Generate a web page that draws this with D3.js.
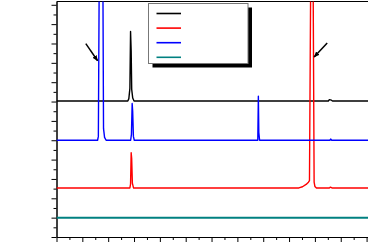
<!DOCTYPE html>
<html lang="en">

<head>
  <meta charset="UTF-8">
  <title>XRD patterns</title>
  <style>
    body { margin: 0; background: #fff; }
    svg { display: block; }
  </style>
</head>

<body>
  <svg id="svg" width="368" height="242"></svg>

  <script src="https://d3js.org/d3.v7.min.js"></script>
  <script>
    // series names, colours and vertical offsets (stacked patterns)
    const names = ['black', 'red', 'blue', 'teal']
    const colors = ['#000000', '#ff0000', '#0000ff', '#008080']
    const offsets = [7030, 2535, 5000, 1000]

    // [2theta, intensity above own baseline]
    const blackPts = [[10, 0], [23.8, 0], [24.0, 120], [24.2, 650], [24.33, 3590], [24.45, 2600],
      [24.55, 600], [24.75, 150], [25.0, 0], [62.6, 0], [62.8, 70], [63.2, 40], [63.4, 0], [73, 0]]
    const redPts = [[10, 0], [24.2, 0], [24.33, 200], [24.45, 1820], [24.55, 1500], [24.68, 250],
      [24.9, 0], [56.9, 0], [57.6, 60], [58.3, 180], [58.75, 300], [58.95, 380], [59.17, 10000],
      [59.67, 10000], [59.85, 300], [60.0, 80], [60.3, 0], [62.8, 0], [63.0, 40], [63.3, 0], [73, 0]]
    const bluePts = [[10, 0], [17.95, 0], [18.1, 200], [18.3, 10000], [18.95, 10000], [19.1, 600],
      [19.3, 150], [19.6, 0], [24.35, 0], [24.5, 300], [24.64, 1900], [24.74, 1500], [24.88, 200],
      [25.05, 0], [48.95, 0], [49.06, 2270], [49.15, 400], [49.3, 0], [62.9, 0], [63.05, 60],
      [63.25, 0], [73, 0]]
    const tealPts = [[10, 0], [73, 0]]
    const series = [blackPts, redPts, bluePts, tealPts]

    const xMajor = d3.range(10, 75, 5)
    const xMinor = d3.range(12.5, 75, 5)
    const yMajor = d3.range(0, 13000, 1000)
    const yMinor = d3.range(500, 12500, 1000)

    // annotation arrows [x1, y1, x2, y2] in data units
    const arrows = [[15.67, 9990, 17.95, 9110], [62.38, 10020, 59.85, 9300]]

    const margin = { left: 56.5, top: 1.5 }
    const width = 323
    const height = 235.5

    const xScale = d3.scaleLinear().domain([10, 72.5]).range([0, width])
    const yScale = d3.scaleLinear().domain([0, 12170]).range([height, 0])

    const svg = d3.select('#svg')
    svg.append('rect').attr('width', 368).attr('height', 242).attr('fill', '#fff')

    svg.append('defs').append('clipPath').attr('id', 'clip')
      .append('rect').attr('width', width).attr('height', height)
    svg.select('defs').append('marker')
      .attr('id', 'head')
      .attr('viewBox', '0 0 10 10')
      .attr('refX', 9).attr('refY', 5)
      .attr('markerWidth', 4).attr('markerHeight', 4)
      .attr('orient', 'auto')
      .append('path').attr('d', 'M0,1L10,5L0,9Z').attr('fill', '#000')

    const g = svg.append('g').attr('transform', `translate(${margin.left},${margin.top})`)

    // axes
    const xAxisMajor = d3.axisBottom(xScale).tickValues(xMajor).tickSize(5).tickSizeOuter(0).tickFormat('')
    const xAxisMinor = d3.axisBottom(xScale).tickValues(xMinor).tickSize(3).tickSizeOuter(0).tickFormat('')
    const yAxisMajor = d3.axisLeft(yScale).tickValues(yMajor).tickSize(5).tickSizeOuter(0).tickFormat('')
    const yAxisMinor = d3.axisLeft(yScale).tickValues(yMinor).tickSize(3).tickSizeOuter(0).tickFormat('')

    g.append('g').attr('transform', `translate(0,${height})`).call(xAxisMajor)
    g.append('g').attr('transform', `translate(0,${height})`).call(xAxisMinor)
    g.append('g').call(yAxisMajor)
    g.append('g').call(yAxisMinor)
    g.selectAll('.domain').attr('stroke', '#000').attr('stroke-width', 1)
    g.selectAll('.tick line').attr('stroke', '#000')

    // top frame
    g.append('line')
      .attr('x1', 0).attr('x2', width)
      .attr('y1', 0).attr('y2', 0)
      .attr('stroke', '#000')

    // traces
    const line = d3.line()
    g.append('g').attr('clip-path', 'url(#clip)')
      .selectAll('path')
      .data(series)
      .enter()
      .append('path')
      .attr('d', (d, i) => line(d.map(p => [xScale(p[0]), yScale(p[1] + offsets[i])])))
      .attr('fill', 'none')
      .attr('stroke', (d, i) => colors[i])
      .attr('stroke-width', (d, i) => i === 3 ? 2 : 1.4)
      .attr('stroke-linejoin', 'round')

    // arrows
    g.selectAll('.arrow')
      .data(arrows)
      .enter()
      .append('line')
      .attr('class', 'arrow')
      .attr('x1', d => xScale(d[0])).attr('y1', d => yScale(d[1]))
      .attr('x2', d => xScale(d[2])).attr('y2', d => yScale(d[3]))
      .attr('stroke', '#000')
      .attr('stroke-width', 1.5)
      .attr('marker-end', 'url(#head)')

    // legend with drop shadow
    const legend = svg.append('g').attr('transform', 'translate(148.5,3.5)')
    legend.append('rect')
      .attr('x', 4).attr('y', 4).attr('width', 99.5).attr('height', 60)
      .attr('fill', '#000')
    legend.append('rect')
      .attr('width', 99.5).attr('height', 60)
      .attr('fill', '#fff')
      .attr('stroke', '#777')
      .attr('stroke-width', 1)
    legend.selectAll('.key')
      .data(names)
      .enter()
      .append('line')
      .attr('class', 'key')
      .attr('x1', 8).attr('x2', 32.5)
      .attr('y1', (d, i) => 10 + i * 14.6)
      .attr('y2', (d, i) => 10 + i * 14.6)
      .attr('stroke', (d, i) => colors[i])
      .attr('stroke-width', 1.6)
  </script>
</body>

</html>
